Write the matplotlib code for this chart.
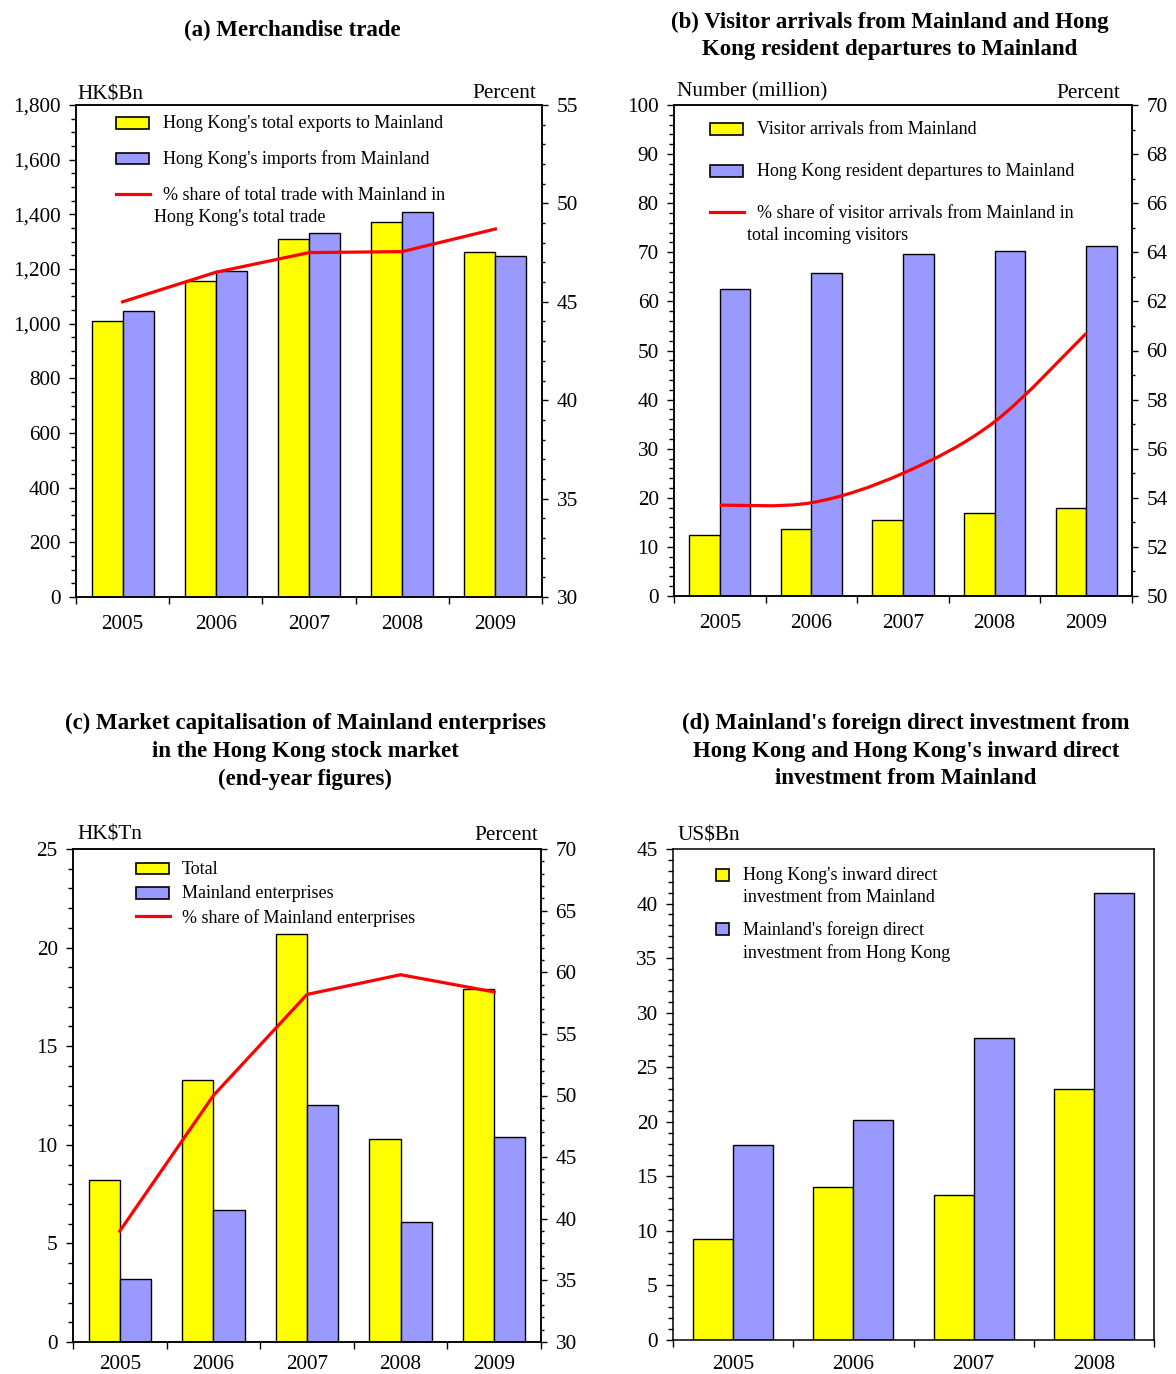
import matplotlib
matplotlib.use("Agg")
import matplotlib.pyplot as plt
import matplotlib.ticker as ticker
from matplotlib.patches import Rectangle, PathPatch
from matplotlib.lines import Line2D
from matplotlib.path import Path

# ---------------------------------------------------------------------------
# Data
# ---------------------------------------------------------------------------
years5 = ["2005", "2006", "2007", "2008", "2009"]
years4 = ["2005", "2006", "2007", "2008"]

# (a) merchandise trade, HK$ bn and percent
exports_bn = [1011, 1155, 1308, 1371, 1264]
imports_bn = [1048, 1192, 1330, 1410, 1249]
trade_share = [45.0, 46.5, 47.5, 47.55, 48.7]

# (b) visitors, million and percent
arrivals_mn = [12.5, 13.6, 15.5, 16.9, 18.0]
departures_mn = [62.6, 65.8, 69.7, 70.3, 71.3]
arrivals_share = [53.7, 53.8, 55.0, 57.1, 60.7]

# (c) market capitalisation, HK$ tn and percent
mcap_total = [8.2, 13.3, 20.7, 10.3, 17.9]
mcap_mainland = [3.2, 6.7, 12.0, 6.1, 10.4]
mcap_share = [39.0, 50.0, 58.2, 59.8, 58.4]

# (d) direct investment, US$ bn
fdi_into_hk = [9.3, 14.0, 13.3, 23.0]
fdi_into_ml = [17.9, 20.2, 27.7, 41.0]

# ---------------------------------------------------------------------------
# Style
# ---------------------------------------------------------------------------
W, H = 1176, 1374
YELLOW = "#FFFF00"
BLUE = "#9999FF"
RED = "#FF0000"
BAR_W = 0.333
TICK_FS = 15.3
LEG_FS = 13
TITLE_FS = 16.5
TXT_DY = 2  # visual nudge: va="center" sits a touch high

plt.rcParams["font.family"] = ["Liberation Serif", "DejaVu Serif"]
plt.rcParams["axes.linewidth"] = 1.1


def fx(x):
    return x / W


def fy(y):
    return 1 - y / H


def make_axes(fig, left, top, right, bottom):
    return fig.add_axes([fx(left), fy(bottom), (right - left) / W, (bottom - top) / H])


def style_left(ax, ylim, major, minor, fmt=None):
    ax.set_ylim(*ylim)
    ax.yaxis.set_major_locator(ticker.MultipleLocator(major))
    ax.yaxis.set_minor_locator(ticker.MultipleLocator(minor))
    if fmt:
        ax.yaxis.set_major_formatter(ticker.StrMethodFormatter(fmt))
    ax.tick_params(axis="y", which="major", direction="out", length=5, width=1,
                   labelsize=TICK_FS, pad=6)
    ax.tick_params(axis="y", which="minor", direction="out", length=3.3, width=1)


def style_right(ax, ylim, major, minor):
    ax.set_ylim(*ylim)
    ax.yaxis.set_major_locator(ticker.MultipleLocator(major))
    ax.yaxis.set_minor_locator(ticker.MultipleLocator(minor))
    ax.tick_params(axis="y", which="major", direction="out", length=4.5, width=1,
                   labelsize=TICK_FS, pad=6)
    ax.tick_params(axis="y", which="minor", direction="out", length=2.5, width=1)


def style_x(ax, labels, pad=13):
    n = len(labels)
    ax.set_xlim(-0.5, n - 0.5)
    ax.set_xticks(range(n))
    ax.set_xticklabels(labels)
    ax.set_xticks([i - 0.5 for i in range(n + 1)], minor=True)
    ax.tick_params(axis="x", which="major", length=0, labelsize=TICK_FS, pad=pad)
    ax.tick_params(axis="x", which="minor", direction="out", length=5, width=1)


def draw_bars(ax, first, second):
    xs = range(len(first))
    ax.bar([x - BAR_W / 2 for x in xs], first, BAR_W, color=YELLOW,
           edgecolor="black", linewidth=1.0, zorder=2)
    ax.bar([x + BAR_W / 2 for x in xs], second, BAR_W, color=BLUE,
           edgecolor="black", linewidth=1.0, zorder=2)


def smooth_line(ax, ys, **kw):
    """Excel-style smoothed line: cubic Bezier through every point."""
    pts = list(zip(range(len(ys)), ys))
    verts = [pts[0]]
    codes = [Path.MOVETO]
    for i in range(len(pts) - 1):
        p0 = pts[max(i - 1, 0)]
        p1, p2 = pts[i], pts[i + 1]
        p3 = pts[min(i + 2, len(pts) - 1)]
        c1 = (p1[0] + (p2[0] - p0[0]) / 6, p1[1] + (p2[1] - p0[1]) / 6)
        c2 = (p2[0] - (p3[0] - p1[0]) / 6, p2[1] - (p3[1] - p1[1]) / 6)
        verts += [c1, c2, p2]
        codes += [Path.CURVE4] * 3
    ax.add_patch(PathPatch(Path(verts, codes), fill=False, **kw))


def box_key(fig, x0, x1, yc, h, color):
    fig.add_artist(Rectangle((fx(x0), fy(yc + h / 2)), (x1 - x0) / W, h / H,
                             transform=fig.transFigure, facecolor=color,
                             edgecolor="black", linewidth=1.2))


def line_key(fig, x0, x1, yc):
    fig.add_artist(Line2D([fx(x0), fx(x1)], [fy(yc), fy(yc)],
                          transform=fig.transFigure, color=RED, linewidth=2.3))


def key_text(fig, x, y, s):
    fig.text(fx(x), fy(y + 1), s, ha="left", va="center", fontsize=LEG_FS)


def title_lines(fig, xc, ys, lines):
    for y, s in zip(ys, lines):
        fig.text(fx(xc), fy(y + TXT_DY), s, ha="center", va="center",
                 fontsize=TITLE_FS, fontweight="bold")


def unit_label(fig, x, y, s, ha="left"):
    fig.text(fx(x), fy(y + TXT_DY), s, ha=ha, va="center", fontsize=TICK_FS)


fig = plt.figure(figsize=(W / 100, H / 100), dpi=100)

# ---------------------------------------------------------------------------
# (a) Merchandise trade
# ---------------------------------------------------------------------------
ax = make_axes(fig, 76, 105, 542, 597)
draw_bars(ax, exports_bn, imports_bn)
style_x(ax, years5)
style_left(ax, (0, 1800), 200, 50, "{x:,.0f}")
ax2 = ax.twinx()
ax2.plot(range(len(trade_share)), trade_share, color=RED, linewidth=2.3, zorder=3)
style_right(ax2, (30, 55), 5, 1)

title_lines(fig, 292, [28], ["(a) Merchandise trade"])
unit_label(fig, 77, 93, "HK$Bn")
unit_label(fig, 536, 92, "Percent", ha="right")
box_key(fig, 116, 149, 123, 11.4, YELLOW)
key_text(fig, 163, 123, "Hong Kong's total exports to Mainland")
box_key(fig, 116, 149, 158.5, 11.4, BLUE)
key_text(fig, 163, 158.5, "Hong Kong's imports from Mainland")
line_key(fig, 116, 150, 194)
key_text(fig, 163, 195, "% share of total trade with Mainland in")
key_text(fig, 154, 216, "Hong Kong's total trade")

# ---------------------------------------------------------------------------
# (b) Visitor arrivals and departures
# ---------------------------------------------------------------------------
ax = make_axes(fig, 674, 105, 1132, 596)
draw_bars(ax, arrivals_mn, departures_mn)
style_x(ax, years5)
style_left(ax, (0, 100), 10, 2)
ax2 = ax.twinx()
smooth_line(ax2, arrivals_share, edgecolor=RED, linewidth=2.3, zorder=3)
style_right(ax2, (50, 70), 2, 1)

title_lines(fig, 890, [20, 48], ["(b) Visitor arrivals from Mainland and Hong",
                                 "Kong resident departures to Mainland"])
unit_label(fig, 677, 90, "Number (million)")
unit_label(fig, 1120, 91, "Percent", ha="right")
box_key(fig, 710, 743, 129, 11.4, YELLOW)
key_text(fig, 757, 129, "Visitor arrivals from Mainland")
box_key(fig, 710, 743, 171, 11.4, BLUE)
key_text(fig, 757, 171, "Hong Kong resident departures to Mainland")
line_key(fig, 710, 744, 211.5)
key_text(fig, 757, 213, "% share of visitor arrivals from Mainland in")
key_text(fig, 747, 234, "total incoming visitors")

# ---------------------------------------------------------------------------
# (c) Market capitalisation
# ---------------------------------------------------------------------------
ax = make_axes(fig, 73, 849, 541, 1342)
draw_bars(ax, mcap_total, mcap_mainland)
style_x(ax, years5, pad=9.5)
style_left(ax, (0, 25), 5, 1)
ax2 = ax.twinx()
ax2.plot(range(len(mcap_share)), mcap_share, color=RED, linewidth=2.3, zorder=3)
style_right(ax2, (30, 70), 5, 1)

title_lines(fig, 305, [721, 749, 777],
            ["(c) Market capitalisation of Mainland enterprises",
             "in the Hong Kong stock market",
             "(end-year figures)"])
unit_label(fig, 77, 833, "HK$Tn")
unit_label(fig, 538, 833, "Percent", ha="right")
box_key(fig, 136, 168.5, 868.5, 11.3, YELLOW)
key_text(fig, 182, 869, "Total")
box_key(fig, 136, 168.5, 893, 11.3, BLUE)
key_text(fig, 182, 893, "Mainland enterprises")
line_key(fig, 136, 170, 915.5)
key_text(fig, 182, 917, "% share of Mainland enterprises")

# ---------------------------------------------------------------------------
# (d) Direct investment
# ---------------------------------------------------------------------------
ax = make_axes(fig, 673, 849, 1154, 1340)
draw_bars(ax, fdi_into_hk, fdi_into_ml)
style_x(ax, years4, pad=10.5)
style_left(ax, (0, 45), 5, 1)

title_lines(fig, 906, [721, 749, 777],
            ["(d) Mainland's foreign direct investment from",
             "Hong Kong and Hong Kong's inward direct",
             "investment from Mainland"])
unit_label(fig, 678, 834, "US$Bn")
box_key(fig, 716, 729, 874.5, 12, YELLOW)
key_text(fig, 743, 875, "Hong Kong's inward direct")
key_text(fig, 743, 896.5, "investment from Mainland")
box_key(fig, 716, 729, 929, 12, BLUE)
key_text(fig, 743, 929.5, "Mainland's foreign direct")
key_text(fig, 743, 952, "investment from Hong Kong")

fig.savefig("out.png", dpi=100)
